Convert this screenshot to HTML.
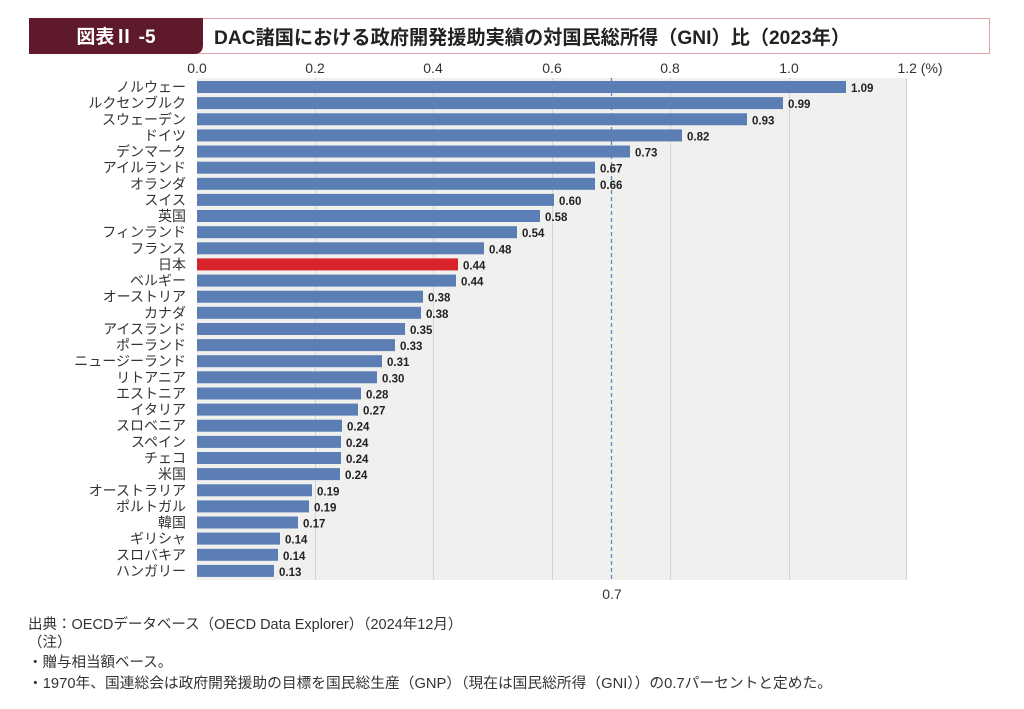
<!DOCTYPE html>
<html><head><meta charset="utf-8"><style>
body{margin:0;width:1024px;height:704px;background:#fff;overflow:hidden}
svg text{font-family:"Liberation Sans","Noto Sans CJK JP",sans-serif}
.l{font-size:14px;fill:#333;text-anchor:end}
.v{font-size:11.5px;font-weight:bold;fill:#222}
</style></head><body>
<svg width="1024" height="704" viewBox="0 0 1024 704" xmlns="http://www.w3.org/2000/svg">
<rect x="29.5" y="18.5" width="960" height="35" fill="#fff" stroke="#e4a0a8" stroke-width="1"/>
<path d="M29 18 H203 V45 Q203 54 194 54 H29 Z" fill="#5e1a2b"/>
<text x="116" y="43" font-size="19" font-weight="bold" fill="#fff" text-anchor="middle">図表Ⅱ -5</text>
<text x="214" y="44" font-size="19.5" font-weight="bold" fill="#222" textLength="636" lengthAdjust="spacingAndGlyphs">DAC諸国における政府開発援助実績の対国民総所得（GNI）比（2023年）</text>
<rect x="197" y="78" width="710" height="502" fill="#f0f0ef"/>
<g stroke="#d4d4d4" stroke-width="1">
<line x1="315.5" y1="78" x2="315.5" y2="580"/><line x1="433.5" y1="78" x2="433.5" y2="580"/>
<line x1="552.5" y1="78" x2="552.5" y2="580"/><line x1="670.5" y1="78" x2="670.5" y2="580"/>
<line x1="789.5" y1="78" x2="789.5" y2="580"/><line x1="906.5" y1="78" x2="906.5" y2="580"/>
</g>
<line x1="611.5" y1="78" x2="611.5" y2="580" stroke="#5b8cc0" stroke-width="1.3" stroke-dasharray="4,3"/>
<g font-size="14" fill="#333" text-anchor="middle">
<text x="197" y="73">0.0</text><text x="315" y="73">0.2</text><text x="433" y="73">0.4</text>
<text x="552" y="73">0.6</text><text x="670" y="73">0.8</text><text x="789" y="73">1.0</text>
<text x="920" y="73">1.2 (%)</text><text x="612" y="599">0.7</text>
</g>
<g fill="#5b7fb5">
<rect x="197" y="81.0" width="649" height="12"/>
<rect x="197" y="97.1" width="586" height="12"/>
<rect x="197" y="113.3" width="550" height="12"/>
<rect x="197" y="129.4" width="485" height="12"/>
<rect x="197" y="145.5" width="433" height="12"/>
<rect x="197" y="161.7" width="398" height="12"/>
<rect x="197" y="177.8" width="398" height="12"/>
<rect x="197" y="193.9" width="357" height="12"/>
<rect x="197" y="210.0" width="343" height="12"/>
<rect x="197" y="226.2" width="320" height="12"/>
<rect x="197" y="242.3" width="287" height="12"/>
<rect x="197" y="258.4" width="261" height="12" fill="#d8232a"/>
<rect x="197" y="274.6" width="259" height="12"/>
<rect x="197" y="290.7" width="226" height="12"/>
<rect x="197" y="306.8" width="224" height="12"/>
<rect x="197" y="323.0" width="208" height="12"/>
<rect x="197" y="339.1" width="198" height="12"/>
<rect x="197" y="355.2" width="185" height="12"/>
<rect x="197" y="371.3" width="180" height="12"/>
<rect x="197" y="387.5" width="164" height="12"/>
<rect x="197" y="403.6" width="161" height="12"/>
<rect x="197" y="419.7" width="145" height="12"/>
<rect x="197" y="435.9" width="144" height="12"/>
<rect x="197" y="452.0" width="144" height="12"/>
<rect x="197" y="468.1" width="143" height="12"/>
<rect x="197" y="484.3" width="115" height="12"/>
<rect x="197" y="500.4" width="112" height="12"/>
<rect x="197" y="516.5" width="101" height="12"/>
<rect x="197" y="532.6" width="83" height="12"/>
<rect x="197" y="548.8" width="81" height="12"/>
<rect x="197" y="564.9" width="77" height="12"/>
</g>
<g>
<text class="l" x="186" y="92.0">ノルウェー</text><text class="v" x="851" y="92.0">1.09</text>
<text class="l" x="186" y="108.1">ルクセンブルク</text><text class="v" x="788" y="108.1">0.99</text>
<text class="l" x="186" y="124.3">スウェーデン</text><text class="v" x="752" y="124.3">0.93</text>
<text class="l" x="186" y="140.4">ドイツ</text><text class="v" x="687" y="140.4">0.82</text>
<text class="l" x="186" y="156.5">デンマーク</text><text class="v" x="635" y="156.5">0.73</text>
<text class="l" x="186" y="172.7">アイルランド</text><text class="v" x="600" y="172.7">0.67</text>
<text class="l" x="186" y="188.8">オランダ</text><text class="v" x="600" y="188.8">0.66</text>
<text class="l" x="186" y="204.9">スイス</text><text class="v" x="559" y="204.9">0.60</text>
<text class="l" x="186" y="221.0">英国</text><text class="v" x="545" y="221.0">0.58</text>
<text class="l" x="186" y="237.2">フィンランド</text><text class="v" x="522" y="237.2">0.54</text>
<text class="l" x="186" y="253.3">フランス</text><text class="v" x="489" y="253.3">0.48</text>
<text class="l" x="186" y="269.4">日本</text><text class="v" x="463" y="269.4">0.44</text>
<text class="l" x="186" y="285.6">ベルギー</text><text class="v" x="461" y="285.6">0.44</text>
<text class="l" x="186" y="301.7">オーストリア</text><text class="v" x="428" y="301.7">0.38</text>
<text class="l" x="186" y="317.8">カナダ</text><text class="v" x="426" y="317.8">0.38</text>
<text class="l" x="186" y="334.0">アイスランド</text><text class="v" x="410" y="334.0">0.35</text>
<text class="l" x="186" y="350.1">ポーランド</text><text class="v" x="400" y="350.1">0.33</text>
<text class="l" x="186" y="366.2">ニュージーランド</text><text class="v" x="387" y="366.2">0.31</text>
<text class="l" x="186" y="382.3">リトアニア</text><text class="v" x="382" y="382.3">0.30</text>
<text class="l" x="186" y="398.5">エストニア</text><text class="v" x="366" y="398.5">0.28</text>
<text class="l" x="186" y="414.6">イタリア</text><text class="v" x="363" y="414.6">0.27</text>
<text class="l" x="186" y="430.7">スロベニア</text><text class="v" x="347" y="430.7">0.24</text>
<text class="l" x="186" y="446.9">スペイン</text><text class="v" x="346" y="446.9">0.24</text>
<text class="l" x="186" y="463.0">チェコ</text><text class="v" x="346" y="463.0">0.24</text>
<text class="l" x="186" y="479.1">米国</text><text class="v" x="345" y="479.1">0.24</text>
<text class="l" x="186" y="495.3">オーストラリア</text><text class="v" x="317" y="495.3">0.19</text>
<text class="l" x="186" y="511.4">ポルトガル</text><text class="v" x="314" y="511.4">0.19</text>
<text class="l" x="186" y="527.5">韓国</text><text class="v" x="303" y="527.5">0.17</text>
<text class="l" x="186" y="543.6">ギリシャ</text><text class="v" x="285" y="543.6">0.14</text>
<text class="l" x="186" y="559.8">スロバキア</text><text class="v" x="283" y="559.8">0.14</text>
<text class="l" x="186" y="575.9">ハンガリー</text><text class="v" x="279" y="575.9">0.13</text>
</g>
<g font-size="14.5" fill="#333">
<text x="28" y="629">出典：OECDデータベース（OECD Data Explorer）（2024年12月）</text>
<text x="28" y="647">（注）</text>
<text x="28" y="667">・贈与相当額ベース。</text>
<text x="28" y="688" textLength="804" lengthAdjust="spacingAndGlyphs">・1970年、国連総会は政府開発援助の目標を国民総生産（GNP）（現在は国民総所得（GNI））の0.7パーセントと定めた。</text>
</g>
</svg>
</body></html>
